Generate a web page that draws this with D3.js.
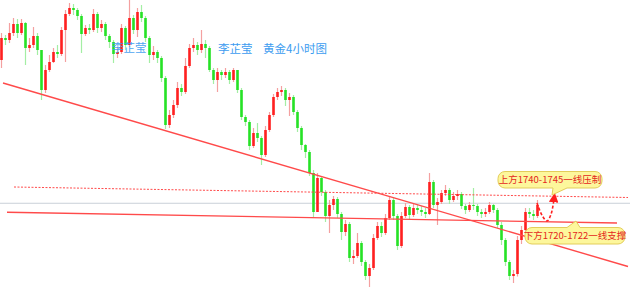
<!DOCTYPE html>
<html>
<head>
<meta charset="utf-8">
<script src="https://cdn.jsdelivr.net/npm/d3@7/dist/d3.min.js"></script>
<style>
  html, body { margin: 0; padding: 0; background: #ffffff; }
  svg { display: block; }
</style>
</head>
<body>
<svg id="chart" width="630" height="288"></svg>
<script>
// Gold (XAU/USD) 4-hour candles
const opens = [1849.0,1866.6,1865.0,1870.6,1877.8,1870.6,1878.6,1858.6,1861.0,1868.2,
  1857.0,1825.0,1841.0,1847.4,1855.4,1853.8,1873.0,1885.8,1890.6,1889.0,
  1884.2,1869.8,1874.6,1873.0,1885.8,1874.6,1877.8,1868.2,1863.4,1853.8,
  1855.4,1874.6,1861.0,1882.6,1873.0,1887.4,1882.6,1866.6,1853.0,1855.4,
  1850.6,1834.6,1797.0,1805.0,1813.0,1826.6,1823.4,1844.2,1858.6,1861.0,
  1857.0,1861.8,1858.6,1841.0,1833.0,1839.4,1837.0,1839.4,1833.0,1841.0,
  1825.0,1803.4,1799.4,1780.2,1790.6,1786.6,1773.0,1793.0,1805.0,1819.4,
  1823.4,1825.0,1817.0,1819.4,1807.4,1794.6,1781.0,1775.4,1758.6,1727.4,
  1754.6,1743.4,1724.2,1733.0,1737.8,1725.8,1711.4,1717.8,1690.6,1692.2,
  1702.6,1687.4,1676.2,1682.6,1706.6,1716.2,1710.6,1722.6,1737.0,1724.2,
  1700.2,1724.2,1731.4,1725.0,1730.6,1729.0,1727.4,1725.8,1751.4,1733.0,
  1735.4,1742.6,1745.0,1737.0,1740.2,1741.8,1732.2,1729.0,1733.0,1732.2,
  1727.4,1725.8,1727.4,1733.0,1729.0,1717.0,1705.0,1687.4,1676.2,1677.8,
  1705.0,1713.0,1727.4,1725.8,1724.2];
const highs = [1870.6,1869.0,1878.6,1882.6,1881.8,1881.8,1879.4,1866.6,1875.4,1870.6,
  1857.0,1845.0,1853.0,1858.6,1861.0,1875.4,1889.0,1894.6,1893.8,1890.6,
  1885.8,1877.0,1877.8,1889.8,1887.4,1881.0,1879.4,1869.8,1865.0,1859.4,
  1877.8,1876.2,1897.0,1885.0,1890.6,1893.0,1884.2,1868.2,1860.2,1857.0,
  1852.2,1836.2,1809.0,1817.0,1831.4,1829.8,1850.6,1861.8,1866.6,1863.4,
  1873.0,1865.0,1860.2,1842.6,1842.6,1841.0,1842.6,1841.0,1842.6,1841.0,
  1826.6,1805.0,1801.0,1794.6,1798.6,1788.2,1796.2,1807.4,1821.8,1826.6,
  1828.2,1826.6,1822.6,1821.0,1809.0,1796.2,1781.8,1777.0,1761.0,1758.6,
  1756.2,1745.0,1737.0,1740.2,1739.4,1727.4,1721.0,1719.4,1697.0,1710.6,
  1704.2,1689.0,1685.8,1709.8,1719.4,1719.4,1725.8,1740.2,1738.6,1725.8,
  1727.4,1734.6,1733.0,1733.8,1733.0,1732.2,1730.6,1758.6,1753.0,1738.6,
  1745.0,1749.0,1746.6,1743.4,1745.0,1743.4,1733.8,1735.4,1746.6,1733.8,
  1729.8,1730.6,1735.4,1733.8,1730.6,1719.4,1706.6,1689.0,1681.0,1708.2,
  1716.2,1730.6,1730.6,1729.0,1737.0];
const lows = [1842.6,1861.0,1862.6,1868.2,1866.6,1869.0,1845.0,1855.4,1858.6,1853.0,
  1817.0,1822.6,1839.4,1846.6,1850.6,1852.2,1847.4,1884.2,1885.0,1881.0,
  1854.6,1868.2,1869.8,1871.4,1870.6,1871.4,1865.0,1858.6,1846.6,1850.6,
  1853.8,1857.0,1859.4,1869.8,1867.4,1879.4,1863.4,1846.6,1849.0,1846.6,
  1831.4,1793.8,1794.6,1802.6,1810.6,1820.2,1821.8,1842.6,1855.4,1853.0,
  1854.6,1850.6,1839.4,1829.8,1823.4,1833.0,1834.6,1829.8,1831.4,1822.6,
  1801.0,1796.2,1777.0,1778.6,1783.4,1765.0,1771.4,1791.4,1803.4,1817.0,
  1820.2,1812.2,1804.2,1805.0,1791.4,1777.0,1770.6,1756.2,1722.6,1727.4,
  1740.2,1719.4,1710.6,1729.0,1722.6,1705.0,1708.2,1687.4,1685.8,1690.6,
  1684.2,1673.0,1667.4,1681.0,1705.0,1707.4,1709.0,1721.0,1721.0,1697.0,
  1698.6,1722.6,1721.0,1723.4,1725.8,1724.2,1722.6,1725.0,1730.6,1717.0,
  1733.8,1740.2,1733.8,1735.4,1737.0,1729.8,1725.8,1727.4,1729.0,1724.2,
  1722.6,1723.4,1725.8,1726.6,1714.6,1701.0,1684.2,1673.0,1670.6,1675.8,
  1701.8,1711.4,1722.6,1721.0,1722.6];
const closes = [1866.6,1865.0,1870.6,1877.8,1870.6,1878.6,1858.6,1861.0,1868.2,1857.0,
  1825.0,1841.0,1847.4,1855.4,1853.8,1873.0,1885.8,1890.6,1889.0,1884.2,
  1869.8,1874.6,1873.0,1885.8,1874.6,1877.8,1868.2,1863.4,1853.8,1855.4,
  1874.6,1861.0,1882.6,1873.0,1887.4,1882.6,1866.6,1853.0,1855.4,1850.6,
  1834.6,1797.0,1805.0,1813.0,1826.6,1823.4,1844.2,1858.6,1861.0,1857.0,
  1861.8,1858.6,1841.0,1833.0,1839.4,1837.0,1839.4,1833.0,1841.0,1825.0,
  1803.4,1799.4,1780.2,1790.6,1786.6,1773.0,1793.0,1805.0,1819.4,1823.4,
  1825.0,1817.0,1819.4,1807.4,1794.6,1781.0,1775.4,1758.6,1727.4,1754.6,
  1743.4,1724.2,1733.0,1737.8,1725.8,1711.4,1717.8,1690.6,1692.2,1702.6,
  1687.4,1676.2,1682.6,1706.6,1716.2,1710.6,1722.6,1737.0,1724.2,1700.2,
  1724.2,1731.4,1725.0,1730.6,1729.0,1727.4,1725.8,1751.4,1733.0,1735.4,
  1742.6,1745.0,1737.0,1740.2,1741.8,1732.2,1729.0,1733.0,1732.2,1727.4,
  1725.8,1727.4,1733.0,1729.0,1717.0,1705.0,1687.4,1676.2,1677.8,1705.0,
  1713.0,1727.4,1725.8,1724.2,1733.0];

// Drawn levels: [barIndex, price] end points
const downTrend   = [[0.5, 1830.6], [156.75, 1683.8]];
const resistance  = [[3.25, 1747.4], [156.75, 1739.0]];
const lastPrice   = [[-0.5, 1734.4], [157.5, 1734.4]];
const support     = [[1.5, 1727.2], [154, 1718.6]];
// Expected path: dip toward support, then up to resistance
const projection  = [[134, 1734.6], [135.3, 1724.5], [136.5, 1720.2], [137.5, 1725.5], [138.3, 1739.0]];

const titleMark   = "李芷莹";
const titleText   = "黄金4小时图";
const upperNote   = "上方1740-1745一线压制";
const lowerNote   = "下方1720-1722一线支撑";

const svg = d3.select("#chart");
const n = closes.length;

const x = d3.scaleLinear().domain([0, n - 1]).range([1, 537]);
const y = d3.scaleLinear().domain([1666.6, 1897]).range([288, 0]);

const UP = "#ff2020", DOWN = "#26e226";
const UP_WICK = "#f4a0a0", DOWN_WICK = "#a4eea4";
const LINE = "#ff4a4a";

const candles = d3.range(n).map(i => ({
  i, o: opens[i], h: Math.max(highs[i], opens[i], closes[i]),
  l: Math.min(lows[i], opens[i], closes[i]), c: closes[i]
}));

// last-price guide
const line = d3.line().x(d => x(d[0])).y(d => y(d[1]));
svg.append("path").attr("d", line(lastPrice))
  .attr("stroke", "#c9d0d8").attr("stroke-width", 1).attr("fill", "none");

// wicks
svg.append("g").selectAll("line").data(candles).join("line")
  .attr("x1", d => x(d.i) + 0.5).attr("x2", d => x(d.i) + 0.5)
  .attr("y1", d => y(d.h)).attr("y2", d => y(d.l))
  .attr("stroke", d => d.c >= d.o ? UP_WICK : DOWN_WICK).attr("stroke-width", 1.2);

// bodies
svg.append("g").selectAll("rect").data(candles).join("rect")
  .attr("x", d => x(d.i) - 0.8)
  .attr("width", 2.6)
  .attr("y", d => y(Math.max(d.o, d.c)))
  .attr("height", d => Math.max(1, Math.abs(y(d.o) - y(d.c))))
  .attr("fill", d => d.c >= d.o ? UP : DOWN);

// trend and level lines
svg.append("path").attr("d", line(downTrend))
  .attr("stroke", LINE).attr("stroke-width", 1.4).attr("fill", "none");
svg.append("path").attr("d", line(support))
  .attr("stroke", LINE).attr("stroke-width", 1.4).attr("fill", "none");
svg.append("path").attr("d", line(resistance))
  .attr("stroke", LINE).attr("stroke-width", 1).attr("stroke-dasharray", "2,1.5").attr("fill", "none");

// projected move
svg.append("defs").append("marker")
  .attr("id", "arrow").attr("viewBox", "0 0 10 10").attr("refX", 5).attr("refY", 5)
  .attr("markerWidth", 6).attr("markerHeight", 6).attr("orient", "auto-start-reverse")
  .append("path").attr("d", "M0,0 L10,5 L0,10 z").attr("fill", "#ff1e1e");
svg.append("path")
  .attr("d", d3.line().x(d => x(d[0])).y(d => y(d[1])).curve(d3.curveCatmullRom)(projection))
  .attr("stroke", "#ff1e1e").attr("stroke-width", 1.6).attr("stroke-dasharray", "3,2")
  .attr("fill", "none").attr("marker-end", "url(#arrow)");

// watermark titles
const FONT = "'Noto Sans CJK SC', 'Noto Sans', sans-serif";
svg.append("text").attr("x", 112).attr("y", 52).text(titleMark)
  .attr("font-family", FONT).attr("font-size", 11.5).attr("fill", "#3c9cf0").attr("opacity", 0.9);
svg.append("text").attr("x", 218).attr("y", 53).text(titleMark)
  .attr("font-family", FONT).attr("font-size", 11.5).attr("fill", "#3c9cf0");
svg.append("text").attr("x", 263).attr("y", 53).text(titleText)
  .attr("font-family", FONT).attr("font-size", 11.5).attr("fill", "#3c9cf0");

// callout bubble: rounded box with a pointer on top or bottom edge
function bubble(x0, y0, w, h, r, tail) {
  const [b1, b2, tx, ty] = tail.pts;
  let p = `M${x0 + r},${y0}`;
  if (tail.side === "top") p += ` H${b1} L${tx},${ty} L${b2},${y0}`;
  p += ` H${x0 + w - r} A${r},${r} 0 0 1 ${x0 + w},${y0 + r} V${y0 + h - r}`;
  p += ` A${r},${r} 0 0 1 ${x0 + w - r},${y0 + h}`;
  if (tail.side === "bottom") p += ` H${b2} L${tx},${ty} L${b1},${y0 + h}`;
  p += ` H${x0 + r} A${r},${r} 0 0 1 ${x0},${y0 + h - r} V${y0 + r} A${r},${r} 0 0 1 ${x0 + r},${y0} Z`;
  return p;
}

function callout(label, tip, side) {
  const tx = x(tip[0]), ty = y(tip[1]);
  let x0, y0, w, h = 16.5, pts;
  if (side === "bottom") {
    w = 104; x0 = tx - 54; y0 = ty - 23.5;
    pts = [tx + 1, tx + 15, tx, ty];
  } else {
    w = 100; x0 = tx - 51; y0 = ty + 6.5;
    pts = [tx - 9, tx + 4, tx, ty];
  }
  const g = svg.append("g");
  g.append("path").attr("d", bubble(x0, y0, w, h, 7, { side, pts }))
    .attr("fill", "#fdf79c").attr("stroke", "#e3cd5a").attr("stroke-width", 1);
  g.append("text").attr("x", x0 + w / 2).attr("y", y0 + h / 2 + 3.4)
    .attr("text-anchor", "middle").attr("font-family", FONT).attr("font-size", 9.5)
    .attr("fill", "#e4261c").text(label);
}

callout(upperNote, [137.75, 1741.0], "bottom");
callout(lowerNote, [143.75, 1720.2], "top");
</script>
</body>
</html>
